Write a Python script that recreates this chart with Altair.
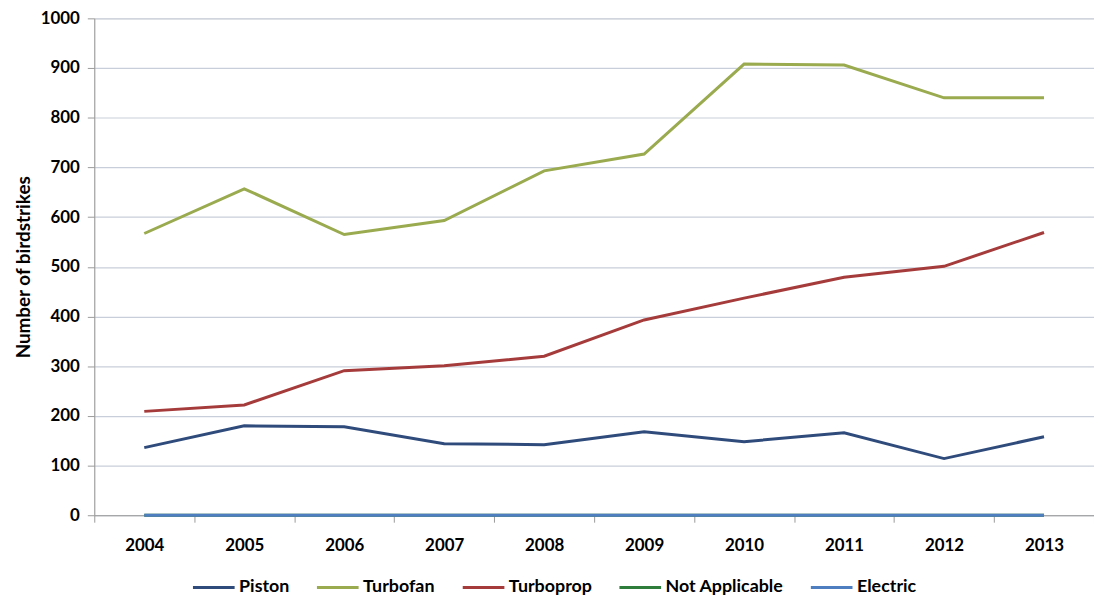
import altair as alt
import pandas as pd

years = ["2004", "2005", "2006", "2007", "2008", "2009", "2010", "2011", "2012", "2013"]
piston = [136, 180, 178, 144, 142, 168, 148, 166, 114, 158]
turbofan = [567, 657, 565, 593, 693, 727, 908, 906, 840, 840]
turboprop = [209, 222, 291, 301, 320, 393, 437, 479, 501, 569]
not_applicable = [0, 0, 0, 0, 0, 0, 0, 0, 0, 0]
electric = [0, 0, 0, 0, 0, 0, 0, 0, 0, 0]

series_names = ["Piston", "Turbofan", "Turboprop", "Not Applicable", "Electric"]
series_values = [piston, turbofan, turboprop, not_applicable, electric]
series_colors = ["#2F4B7C", "#9AAA4F", "#A53C3B", "#2E7D3A", "#4F7EC0"]

rows = []
for name, vals in zip(series_names, series_values):
    for y, v in zip(years, vals):
        rows.append({"Year": y, "Value": v, "Series": name})
df = pd.DataFrame(rows)

FONT = "Lato"

chart = alt.Chart(df).mark_line(strokeWidth=3).encode(
    x=alt.X("Year:O", sort=years,
            scale=alt.Scale(type="band", paddingInner=0, paddingOuter=0),
            axis=alt.Axis(title=None, labelAngle=0, tickBand="extent", grid=False,
                          domainColor="#9A9A9A", tickColor="#9A9A9A", tickSize=7,
                          labelFontSize=17, labelFontWeight="bold", labelFont=FONT,
                          labelColor="#000000", labelPadding=16)),
    y=alt.Y("Value:Q",
            scale=alt.Scale(domain=[0, 1000], nice=False),
            axis=alt.Axis(title="Number of birdstrikes", values=list(range(0, 1001, 100)),
                          format="d",
                          titleFontSize=19, titleFontWeight="bold", titleFont=FONT,
                          titleColor="#000000", titlePadding=7,
                          domainColor="#9A9A9A", tickColor="#9A9A9A", tickSize=7,
                          gridColor="#C9CFDA", gridWidth=1.2,
                          labelFontSize=17, labelFontWeight="bold", labelFont=FONT,
                          labelColor="#000000", labelPadding=8)),
    color=alt.Color("Series:N", sort=series_names,
                    scale=alt.Scale(domain=series_names, range=series_colors),
                    legend=alt.Legend(title=None, orient="none", direction="horizontal",
                                      legendX=98, legendY=551,
                                      symbolType="stroke", symbolSize=1764,
                                      symbolStrokeWidth=3, columnPadding=21,
                                      labelFontSize=18, labelFontWeight="bold",
                                      labelFont=FONT, labelColor="#000000",
                                      labelOffset=3, padding=0)),
    order=alt.Order("order:Q"),
).transform_calculate(
    order="indexof(['Piston','Turbofan','Turboprop','Not Applicable','Electric'], datum.Series)"
).properties(
    width=1008, height=501,
    autosize=alt.AutoSizeParams(type="none"),
    padding={"left": 87, "top": 8, "right": 0, "bottom": 80},
).configure_view(stroke=None).configure(background="#FFFFFF")

chart.save("out.html", embed_options={"renderer": "svg", "actions": False})
